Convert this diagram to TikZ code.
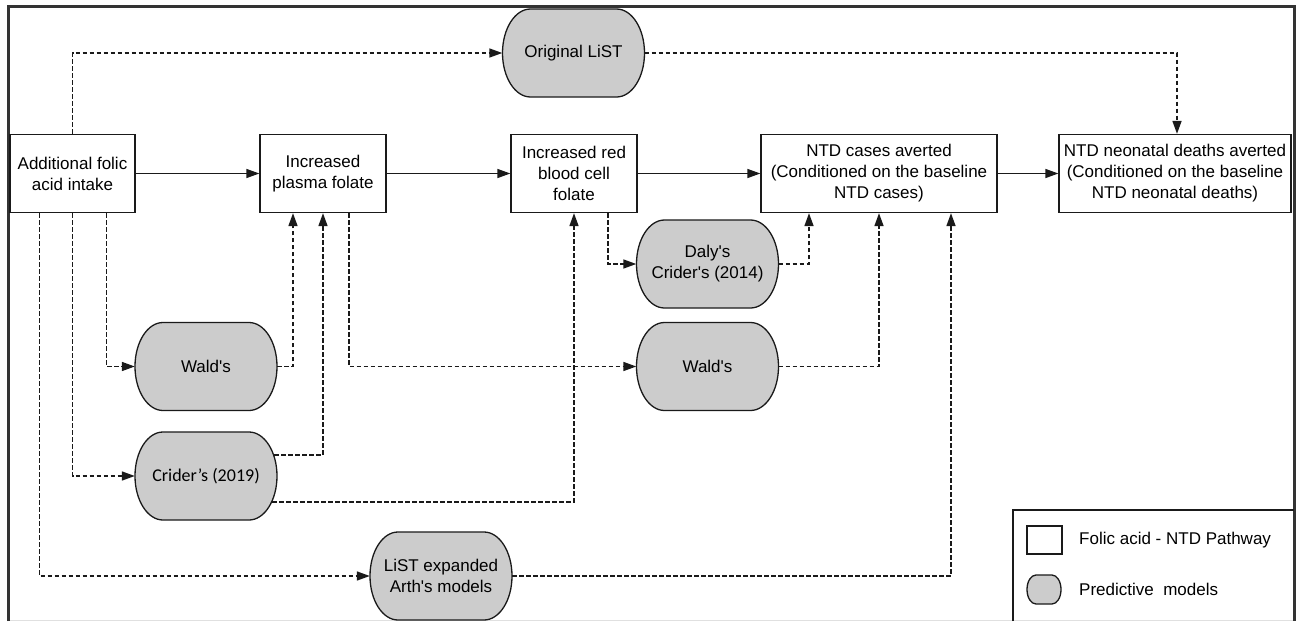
\documentclass[tikz,border=0pt]{standalone}
\usepackage{fontspec}
\setmainfont{Liberation Sans}[Ligatures=TeXOff]
\newfontfamily\calibfont{Carlito}
\usetikzlibrary{arrows.meta}
\definecolor{pillgray}{HTML}{CCCCCC}
\definecolor{framegray}{HTML}{333333}
\definecolor{inkc}{HTML}{1A1A1A}
\tikzset{
  box/.style={draw=inkc, line width=1.3pt, fill=white, minimum height=78pt, align=center, inner sep=2pt},
  pilltext/.style={minimum width=142pt, minimum height=88pt, align=center, inner sep=0pt},
  pillshape/.style={draw=inkc, line width=1.3pt, fill=pillgray},
  flow/.style={draw=inkc, line width=1.5pt, -{Triangle[length=13pt,width=9pt]}},
  dflow/.style={draw=inkc, line width=1.6pt, dash pattern=on 4.5pt off 2.5pt, -{Triangle[length=13pt,width=9pt]}},
  legendtext/.style={anchor=west, inner sep=0pt},
}
\newcommand\pillat[4]{%
  \path[pillshape] ({#2-43},{#3-44}) -- ({#2+43},{#3-44})
     arc[start angle=90,end angle=-90,x radius=28pt,y radius=44pt]
     -- ({#2-43},{#3+44})
     arc[start angle=270,end angle=90,x radius=28pt,y radius=44pt] -- cycle;
  \node[pilltext] (#1) at (#2,#3) {#4};
}
\begin{document}
\begin{tikzpicture}[x=1pt,y=-1pt,font=\fontsize{17}{21}\selectfont]
\useasboundingbox (0,0) rectangle (1298,621);
\fill[white] (0,0) rectangle (1298,621);

% frame
\draw[framegray, line width=3.5pt] (8.5,621) -- (8.5,6.5) -- (1294.5,6.5) -- (1294.5,621);
\draw[black!12, line width=1pt] (10,620) -- (1293,620);

% pathway boxes
\node[box, minimum width=125pt] (A) at (72.5,173.5) {Additional folic\\acid intake};
\node[box, minimum width=126pt] (B) at (323,173.5) {Increased\\plasma folate};
\node[box, minimum width=126pt] (C) at (574,173.5) {Increased red\\blood cell\\folate};
\node[box, minimum width=236pt] (D) at (879,173.5) {NTD cases averted\\(Conditioned on the baseline\\NTD cases)};
\node[box, minimum width=232pt] (E) at (1175,173.5) {NTD neonatal deaths averted\\(Conditioned on the baseline\\NTD neonatal deaths)};

% predictive models
\pillat{LiST}{573.5}{53}{Original LiST}
\pillat{WaldL}{206}{366.5}{Wald's}
\pillat{Crider}{206}{476}{\calibfont\fontsize{18}{21}\selectfont Crider’s (2019)}
\pillat{ListX}{441}{576}{LiST expanded\\Arth's models}
\pillat{Daly}{707.5}{264}{Daly's\\Crider's (2014)}
\pillat{WaldR}{707.5}{366.5}{Wald's}

% solid pathway arrows
\draw[flow] (A.east) -- (B.west);
\draw[flow] (B.east) -- (C.west);
\draw[flow] (C.east) -- (D.west);
\draw[flow] (D.east) -- (E.west);

% dashed model arrows
\draw[dflow] (A.north) |- (LiST.west);
\draw[dflow] (LiST.east) -| ([xshift=2pt]E.north);
\draw[dflow] ([xshift=97pt]A.south west) |- (WaldL.west);
\draw[dflow] (A.south) |- (Crider.west);
\draw[dflow] ([xshift=30pt]A.south west) |- (ListX.west);
\draw[dflow] (WaldL.east) -| ([xshift=-30pt]B.south);
\draw[dflow] ([xshift=-3pt,yshift=21pt]Crider.east) -| (B.south);
\draw[dflow] ([xshift=-5pt,yshift=-26pt]Crider.east) -| (C.south);
\draw[dflow] ([xshift=26pt]B.south) |- (WaldR.west);
\draw[dflow] ([xshift=34pt]C.south) |- (Daly.west);
\draw[dflow] (Daly.east) -| ([xshift=-70pt]D.south);
\draw[dflow] (WaldR.east) -| (D.south);
\draw[dflow] (ListX.east) -| ([xshift=72pt]D.south);

% legend
\draw[inkc, line width=1.3pt] (1013,621) -- (1013,510) -- (1294,510);
\draw[inkc, line width=1.3pt, fill=white] (1027,526) rectangle (1062,554);
\path[pillshape] (1036,575) -- (1052,575)
   arc[start angle=90,end angle=-90,x radius=9pt,y radius=14.5pt]
   -- (1036,604)
   arc[start angle=270,end angle=90,x radius=9pt,y radius=14.5pt] -- cycle;
\node[legendtext] (L1) at (1079,540) {Folic acid - NTD Pathway};
\node[legendtext] (L2) at (1079,589.5) {Predictive\ \ models};
\end{tikzpicture}
\end{document}
